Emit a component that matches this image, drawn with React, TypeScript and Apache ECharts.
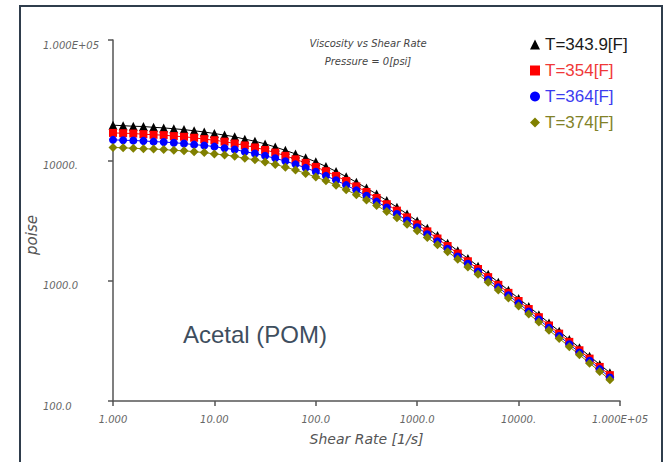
import React, { useEffect, useRef } from "react";
import * as echarts from "echarts";

// Shear rate [1/s], log-spaced points as plotted
const shearRate = [
  1, 1.259, 1.585, 1.995, 2.512, 3.162, 3.981, 5.012, 6.31, 7.943,
  10, 12.59, 15.85, 19.95, 25.12, 31.62, 39.81, 50.12, 63.1, 79.43,
  100, 125.9, 158.5, 199.5, 251.2, 316.2, 398.1, 501.2, 631, 794.3,
  1000, 1259, 1585, 1995, 2512, 3162, 3981, 5012, 6310, 7943,
  10000, 12589, 15849, 19953, 25119, 31623, 39811, 50119, 63096, 79433,
];

// Viscosity [poise]
const poiseT3439 = [
  19600, 19400, 19200, 19100, 18800, 18600, 18300, 18000, 17600, 17200,
  16700, 16200, 15700, 15000, 14400, 13700, 12900, 12100, 11300, 10500,
  9710, 8890, 8090, 7320, 6580, 5890, 5240, 4630, 4080, 3580,
  3130, 2730, 2370, 2050, 1770, 1530, 1320, 1130, 970, 832,
  712, 609, 521, 445, 380, 324, 277, 236, 201, 172,
];
const poiseT354 = [
  16900, 16800, 16700, 16500, 16300, 16200, 15900, 15700, 15400, 15000,
  14700, 14300, 13800, 13300, 12800, 12200, 11600, 10900, 10200, 9530,
  8820, 8120, 7420, 6740, 6080, 5460, 4870, 4320, 3820, 3360,
  2940, 2570, 2240, 1940, 1680, 1450, 1250, 1070, 923, 792,
  678, 581, 497, 424, 363, 310, 264, 225, 192, 164,
];
const poiseT364 = [
  14800, 14700, 14600, 14500, 14300, 14200, 14000, 13800, 13500, 13300,
  13000, 12600, 12300, 11800, 11400, 10900, 10400, 9840, 9260, 8660,
  8050, 7430, 6820, 6220, 5630, 5070, 4540, 4050, 3580, 3160,
  2780, 2430, 2120, 1840, 1590, 1380, 1190, 1020, 880, 756,
  648, 555, 475, 406, 347, 296, 253, 216, 184, 157,
];
const poiseT374 = [
  12800, 12700, 12600, 12500, 12400, 12300, 12100, 12000, 11800, 11600,
  11300, 11100, 10800, 10400, 10100, 9670, 9240, 8780, 8300, 7790,
  7270, 6750, 6220, 5690, 5180, 4680, 4210, 3760, 3340, 2950,
  2600, 2280, 1990, 1740, 1510, 1300, 1130, 972, 836, 719,
  617, 529, 453, 387, 331, 283, 242, 206, 176, 150,
];

const seriesNames = ["T=343.9[F]", "T=354[F]", "T=364[F]", "T=374[F]"];
const seriesData = [poiseT3439, poiseT354, poiseT364, poiseT374];

const xTickValues = [1, 10, 100, 1000, 10000, 100000];
const xTickLabels = ["1.000", "10.00", "100.0", "1000.0", "10000.", "1.000E+05"];
const yTickValues = [100, 1000, 10000, 100000];
const yTickLabels = ["100.0", "1000.0", "10000.", "1.000E+05"];

const titleLines = ["Viscosity vs Shear Rate", "Pressure = 0[psi]"];
const yAxisTitle = "poise";
const annotation = "Acetal (POM)";

const markerColors = ["#000000", "#ff0000", "#0000ff", "#808000"];
const textColors = ["#1a1a1a", "#f03838", "#3c3cf0", "#828228"];
const symbols = ["triangle", "rect", "circle", "diamond"];
const symbolSizes = [9, 8, 8, 9];

function tickLabel(values: number[], labels: string[], v: number) {
  const i = values.findIndex((t) => Math.abs(Math.log10(t) - Math.log10(v)) < 1e-6);
  return i >= 0 ? labels[i] : "";
}

export default function App() {
  const ref = useRef<HTMLDivElement>(null);
  useEffect(() => {
    if (!ref.current) return;
    const chart = echarts.init(ref.current, null, { renderer: "svg" });
    const axisFont = "DejaVu Sans";
    chart.setOption({
      animation: false,
      backgroundColor: "#ffffff",
      grid: { left: 113, right: 46, top: 40, bottom: 61 },
      xAxis: {
        type: "log",
        logBase: 10,
        min: 1,
        max: 100000,
        name: "Shear Rate [1/s]",
        nameLocation: "middle",
        nameGap: 31,
        nameTextStyle: { fontFamily: axisFont, fontStyle: "italic", fontSize: 14, color: "#555" },
        axisLine: { lineStyle: { color: "#555", width: 1.5 } },
        axisTick: { show: true, length: 5, lineStyle: { color: "#555", width: 1.5 } },
        minorTick: { show: false },
        splitLine: { show: false },
        axisLabel: {
          margin: 13,
          fontFamily: axisFont,
          fontStyle: "italic",
          fontSize: 10,
          color: "#666",
          formatter: (v: number) => tickLabel(xTickValues, xTickLabels, v),
        },
      },
      yAxis: {
        type: "log",
        logBase: 10,
        min: 100,
        max: 100000,
        axisLine: { show: true, lineStyle: { color: "#555", width: 1.5 } },
        axisTick: { show: true, length: 5, lineStyle: { color: "#555", width: 1.5 } },
        minorTick: { show: false },
        splitLine: { show: false },
        axisLabel: {
          margin: 70,
          align: "left",
          verticalAlign: "top",
          fontFamily: axisFont,
          fontStyle: "italic",
          fontSize: 10,
          color: "#666",
          formatter: (v: number) => tickLabel(yTickValues, yTickLabels, v),
        },
      },
      legend: {
        orient: "vertical",
        left: 525,
        top: 31,
        itemWidth: 10,
        itemHeight: 10,
        itemGap: 9,
        textStyle: { fontFamily: "Liberation Sans", fontSize: 17, lineHeight: 17 },
        data: seriesNames.map((n, i) => ({
          name: n,
          icon: symbols[i],
          textStyle: { color: textColors[i] },
        })),
      },
      series: seriesNames.map((n, i) => ({
        name: n,
        type: "line",
        data: shearRate.map((x, j) => [x, seriesData[i][j]]),
        symbol: symbols[i],
        symbolSize: symbolSizes[i],
        showAllSymbol: true,
        itemStyle: { color: markerColors[i] },
        lineStyle: { color: markerColors[i], width: 1 },
      })),
      graphic: [
        {
          type: "rect",
          shape: { x: 20, y: 6, width: 642, height: 520 },
          style: { fill: "none", stroke: "#2f3d4c", lineWidth: 2 },
          silent: true,
        },
        {
          type: "text",
          x: 32,
          y: 235,
          rotation: Math.PI / 2,
          style: {
            text: yAxisTitle,
            align: "center",
            verticalAlign: "middle",
            font: "italic 15px 'DejaVu Sans'",
            fill: "#555",
          },
        },
        {
          type: "text",
          x: 368,
          y: 43,
          style: {
            text: titleLines[0],
            align: "center",
            verticalAlign: "middle",
            font: "italic 10px 'DejaVu Sans'",
            fill: "#444",
          },
        },
        {
          type: "text",
          x: 368,
          y: 61,
          style: {
            text: titleLines[1],
            align: "center",
            verticalAlign: "middle",
            font: "italic 10px 'DejaVu Sans'",
            fill: "#444",
          },
        },
        {
          type: "text",
          x: 255,
          y: 334,
          style: {
            text: annotation,
            align: "center",
            verticalAlign: "middle",
            font: "24px 'Liberation Sans'",
            fill: "#3e4e5e",
          },
        },
      ],
    });
    return () => chart.dispose();
  }, []);
  return (
    <div
      ref={ref}
      style={{ position: "absolute", left: 0, top: 0, width: 666, height: 462, background: "#fff" }}
    />
  );
}
